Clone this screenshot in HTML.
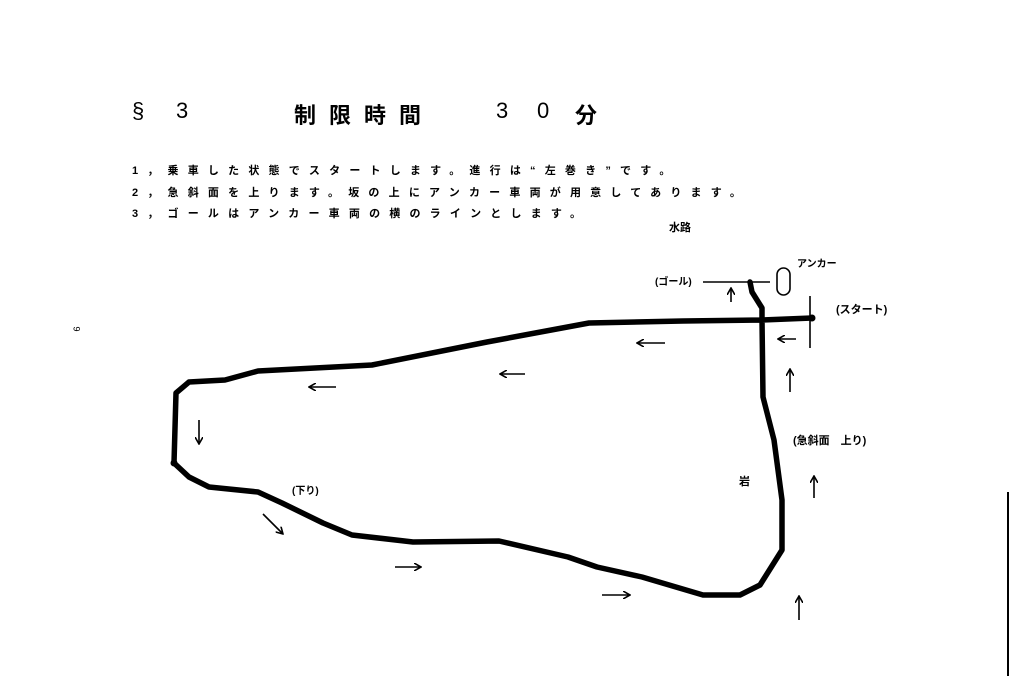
<!DOCTYPE html>
<html><head><meta charset="utf-8"><style>
html,body{margin:0;padding:0;background:#fff;}
body{width:1012px;height:676px;overflow:hidden;position:relative;font-family:"Liberation Sans","Noto Sans CJK JP",sans-serif;color:#000;}
.t{position:absolute;white-space:nowrap;}
.l{font-size:11px;letter-spacing:9.2px;font-weight:bold;}
</style></head><body>
<svg width="1012" height="676" style="position:absolute;left:0;top:0">
<defs><marker id="a" markerWidth="8" markerHeight="8" refX="7" refY="4" orient="auto" markerUnits="userSpaceOnUse"><path d="M0,0 L7,4 L0,8" fill="none" stroke="#000" stroke-width="1.6"/></marker></defs>
<g fill="none" stroke="#000" stroke-width="5.5" stroke-linejoin="round" stroke-linecap="round">
<path d="M812,318 L762,320 L683,321 L589,323 L487,342 L372,365 L258,371 L225,380 L189,382 L176,393 L174,463 L189,477 L209,487 L258,492 L282,503 L323,523 L352,535 L413,542 L499,541 L568,557 L597,567 L642,577 L703,595 L740,595 L760,585 L782,550 L782,500 L774,440 L763,397 L762,320"/>
<path d="M750,282 L752,292 L762,308 L762,320"/>
</g>
<circle cx="812" cy="318" r="3.5" fill="#000"/>
<circle cx="174" cy="463" r="3.5" fill="#000"/>
<g stroke="#000" stroke-width="1.6" fill="none">
<line x1="703" y1="282" x2="770" y2="282"/>
<line x1="810" y1="296" x2="810" y2="348"/>
<rect x="777" y="268" width="13" height="27" rx="6.5"/>
<line x1="1008" y1="492" x2="1008" y2="676" stroke-width="2"/>
<line x1="665" y1="343" x2="637" y2="343" marker-end="url(#a)"/>
<line x1="525" y1="374" x2="500" y2="374" marker-end="url(#a)"/>
<line x1="336" y1="387" x2="309" y2="387" marker-end="url(#a)"/>
<line x1="796" y1="339" x2="778" y2="339" marker-end="url(#a)"/>
<line x1="199" y1="420" x2="199" y2="444" marker-end="url(#a)"/>
<line x1="263" y1="514" x2="283" y2="534" marker-end="url(#a)"/>
<line x1="395" y1="567" x2="421" y2="567" marker-end="url(#a)"/>
<line x1="602" y1="595" x2="630" y2="595" marker-end="url(#a)"/>
<line x1="790" y1="392" x2="790" y2="369" marker-end="url(#a)"/>
<line x1="814" y1="498" x2="814" y2="476" marker-end="url(#a)"/>
<line x1="799" y1="620" x2="799" y2="596" marker-end="url(#a)"/>
<line x1="731" y1="302" x2="731" y2="288" marker-end="url(#a)"/>
</g>
</svg>
<div class="t" style="left:132px;top:98px;font-size:22px">§</div>
<div class="t" style="left:176px;top:98px;font-size:22px">3</div>
<div class="t" style="left:294px;top:98px;font-size:22px;letter-spacing:13px;font-weight:bold">制限時間</div>
<div class="t" style="left:496px;top:98px;font-size:22px">3</div>
<div class="t" style="left:537px;top:98px;font-size:22px">0</div>
<div class="t" style="left:575px;top:98px;font-size:22px;font-weight:bold">分</div>
<div class="t l" style="left:132px;top:162px">1，乗車した状態でスタートします。進行は“左巻き”です。</div>
<div class="t l" style="left:132px;top:184px">2，急斜面を上ります。坂の上にアンカー車両が用意してあります。</div>
<div class="t l" style="left:132px;top:205px">3，ゴールはアンカー車両の横のラインとします。</div>
<div class="t" style="left:669px;top:219px;font-size:11px;font-weight:bold">水路</div>
<div class="t" style="left:797px;top:255px;font-size:10px;font-weight:bold">アンカー</div>
<div class="t" style="left:655px;top:273px;font-size:10px;font-weight:bold">(ゴール)</div>
<div class="t" style="left:836px;top:301px;font-size:11px;font-weight:bold">(スタート)</div>
<div class="t" style="left:793px;top:432px;font-size:11px;font-weight:bold">(急斜面　上り)</div>
<div class="t" style="left:739px;top:473px;font-size:11px;font-weight:bold">岩</div>
<div class="t" style="left:292px;top:482px;font-size:10px;font-weight:bold">(下り)</div>
<div class="t" style="left:74px;top:324px;font-size:9px;transform:rotate(90deg)">9</div>
</body></html>
